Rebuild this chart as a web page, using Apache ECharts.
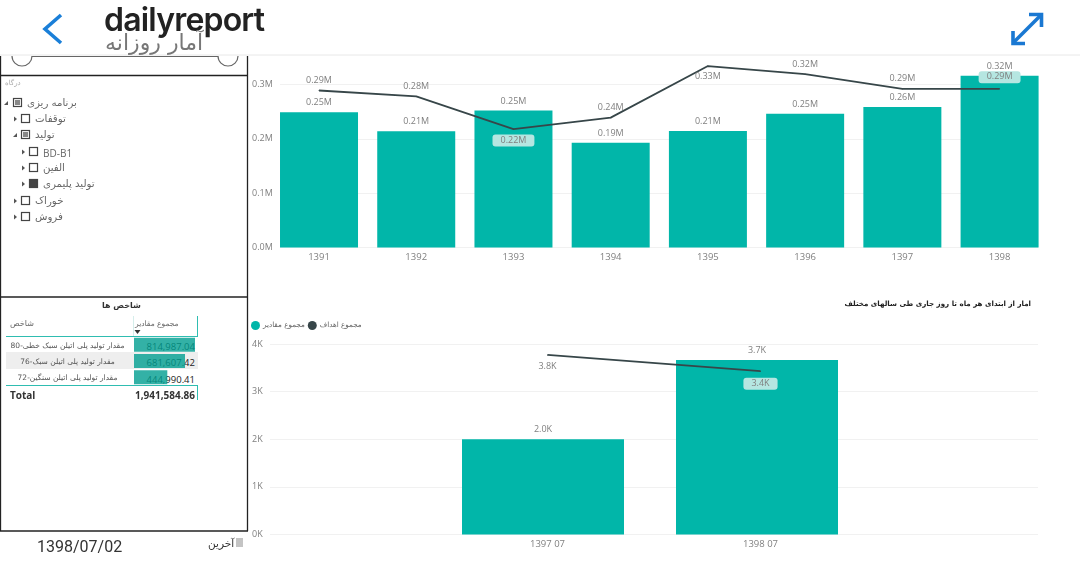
<!DOCTYPE html>
<html>
<head>
<meta charset="utf-8">
<title>dailyreport</title>
<script src="https://cdn.jsdelivr.net/npm/echarts@6/dist/echarts.min.js"></script>
<style>
  html, body { margin: 0; padding: 0; background: #fff; overflow: hidden; }
  #chart { position: absolute; left: 0; top: 0; width: 1080px; height: 578px; z-index: 1; }
  .t { position: absolute; white-space: nowrap; z-index: 2; line-height: 1; font-family: "DejaVu Sans", sans-serif; }
  .box { position: absolute; z-index: 0; }
  svg { position: absolute; left: 0; top: 0; z-index: 2; }
</style>
</head>
<body>
<div class="box" style="left:6px;top:352px;width:192px;height:17px;background:#eeeeee"></div>
<div id="chart"></div>
<svg id="icons" width="1080" height="578"></svg>
<div id="texts"></div>
<script>
var yearCats = ['1391', '1392', '1393', '1394', '1395', '1396', '1397', '1398'];
var yearValues = [249000, 214000, 252000, 193000, 214500, 246000, 258700, 316000];
var yearTargets = [289000, 278000, 218000, 239000, 334000, 319000, 292000, 292000];
var monthCats = ['1397 07', '1398 07'];
var monthValues = [2000, 3666];
var monthTargets = [3770, 3430];
var measureNames = ['مقدار تولید پلی اتیلن سبک خطی-80', 'مقدار تولید پلی اتیلن سبک-76', 'مقدار تولید پلی اتیلن سنگین-72'];
var measureValues = [814987.04, 681607.42, 444990.41];
var measureTotal = '1,941,584.86';
var nameValue = 'مجموع مقادیر';
var nameTarget = 'مجموع اهداف';
var teal = '#01B6A9';
var dark = '#374649';
var labelGrey = '#808080';
var chipColor = '#b5e6e1';
var labelFont = '"Open Sans", sans-serif';

// which target labels sit under the line, and which get the pale chip
var topBelow = ['1393', '1395'];
var topChip = ['1393', '1398'];

function fmtM(v) { return (v / 1000000).toFixed(2) + 'M'; }
function fmtK(v) { return (v / 1000).toFixed(1) + 'K'; }

var chipStyle = { backgroundColor: chipColor, borderRadius: 3, padding: [1, 8, 2, 8] };

var yearLine = yearTargets.map(function (v, i) {
  var c = yearCats[i];
  var lab = { show: true, position: topBelow.indexOf(c) >= 0 ? 'bottom' : 'top' };
  if (topChip.indexOf(c) >= 0) Object.assign(lab, chipStyle);
  return { value: v, label: lab };
});
var monthLine = monthTargets.map(function (v, i) {
  var lab = { show: true, position: 'bottom', distance: 6 };
  if (i === 1) Object.assign(lab, chipStyle);
  return { value: v, label: lab };
});

function hiddenX(grid, cats) {
  return { type: 'category', gridIndex: grid, data: cats, show: false };
}
function hiddenY(grid, max, interval) {
  return { type: 'value', gridIndex: grid, min: 0, max: max, interval: interval, show: false };
}
function shownX(grid, cats) {
  return {
    type: 'category', gridIndex: grid, data: cats,
    axisLine: { show: false }, axisTick: { show: false },
    axisLabel: { color: labelGrey, fontSize: 9.5, fontFamily: labelFont, margin: 5 }
  };
}

var option = {
  animation: false,
  title: {
    text: 'امار از ابتدای هر ماه تا روز جاری طی سالهای مختلف',
    right: 44, top: 296,
    textStyle: { fontSize: 7.1, fontWeight: 'bold', color: '#222', fontFamily: '"DejaVu Sans", sans-serif' }
  },
  legend: {
    left: 251, top: 321, itemGap: 3, itemWidth: 9, itemHeight: 9, icon: 'circle',
    padding: 0,
    data: [nameValue, nameTarget],
    textStyle: { fontSize: 7.2, color: '#666', padding: [0, 0, 0, -2], fontFamily: '"DejaVu Sans", sans-serif' }
  },
  grid: [
    { left: 280, width: 758, top: 30.2, height: 217.3 },
    { left: 270.4, width: 777.8, top: 30.2, height: 217.3 },
    { left: 270, width: 768, top: 344, height: 190.5 },
    { left: 436, width: 428, top: 344, height: 190.5 },
    { left: 441, width: 426, top: 344, height: 190.5 },
    { left: 134, width: 61, top: 336.5, height: 49 }
  ],
  xAxis: [
    hiddenX(0, yearCats),
    shownX(1, yearCats),
    hiddenX(2, monthCats),
    hiddenX(3, monthCats),
    shownX(4, monthCats),
    { type: 'value', gridIndex: 5, min: 0, max: measureValues[0], show: false }
  ],
  yAxis: [
    {
      type: 'value', gridIndex: 0, min: 0, max: 400000, interval: 100000,
      axisLine: { show: false }, axisTick: { show: false },
      splitLine: { showMaxLine: false, lineStyle: { color: '#f1f1f1' } },
      axisLabel: {
        showMaxLabel: false, color: labelGrey, fontSize: 9, fontFamily: labelFont,
        align: 'left', margin: 28, formatter: function (v) { return (v / 1000000).toFixed(1) + 'M'; }
      }
    },
    hiddenY(1, 400000, 100000),
    {
      type: 'value', gridIndex: 2, min: 0, max: 4000, interval: 1000,
      axisLine: { show: false }, axisTick: { show: false },
      splitLine: { lineStyle: { color: '#f1f1f1' } },
      axisLabel: {
        color: labelGrey, fontSize: 9, fontFamily: labelFont,
        align: 'left', margin: 18, formatter: function (v) { return (v / 1000) + 'K'; }
      }
    },
    hiddenY(3, 4000, 1000),
    hiddenY(4, 4000, 1000),
    { type: 'category', gridIndex: 5, inverse: true, data: measureNames, show: false }
  ],
  series: [
    {
      name: nameValue, type: 'bar', xAxisIndex: 1, yAxisIndex: 1, data: yearValues,
      barWidth: 78, itemStyle: { color: teal },
      label: { show: true, position: 'top', distance: 5, color: labelGrey, fontSize: 9, fontFamily: labelFont, formatter: function (p) { return fmtM(p.value); } }
    },
    {
      name: nameTarget, type: 'line', xAxisIndex: 1, yAxisIndex: 1, data: yearLine,
      symbol: 'circle', symbolSize: 1, showAllSymbol: true, z: 5,
      lineStyle: { color: dark, width: 1.8 }, itemStyle: { color: dark },
      label: { show: true, distance: 5, color: labelGrey, fontSize: 9, fontFamily: labelFont, formatter: function (p) { return fmtM(p.value); } }
    },
    {
      name: nameValue, type: 'bar', xAxisIndex: 3, yAxisIndex: 3, data: monthValues,
      barWidth: 162, itemStyle: { color: teal },
      label: { show: true, position: 'top', distance: 5, color: labelGrey, fontSize: 9, fontFamily: labelFont, formatter: function (p) { return fmtK(p.value); } }
    },
    {
      name: nameTarget, type: 'line', xAxisIndex: 4, yAxisIndex: 4, data: monthLine,
      symbol: 'circle', symbolSize: 1, showAllSymbol: true, z: 5,
      lineStyle: { color: dark, width: 1.8 }, itemStyle: { color: dark },
      label: { show: true, color: labelGrey, fontSize: 9, fontFamily: labelFont, formatter: function (p) { return fmtK(p.value); } }
    },
    {
      type: 'bar', xAxisIndex: 5, yAxisIndex: 5, data: measureValues,
      barWidth: 14, itemStyle: { color: '#009d90', opacity: 0.8 }, silent: true
    }
  ]
};

var myChart = echarts.init(document.getElementById('chart'));
myChart.setOption(option);

// ---- everything around the charts: header, panels, tree, table texts
var treeRows = [
  { text: 'برنامه ریزی', level: 0, y: 103, fill: 'part', open: true },
  { text: 'توقفات', level: 1, y: 119, fill: 'none' },
  { text: 'تولید', level: 1, y: 135, fill: 'part', open: true },
  { text: 'BD-B1', level: 2, y: 152, fill: 'none' },
  { text: 'الفین', level: 2, y: 168, fill: 'none' },
  { text: 'تولید پلیمری', level: 2, y: 184, fill: 'full' },
  { text: 'خوراک', level: 1, y: 201, fill: 'none' },
  { text: 'فروش', level: 1, y: 217, fill: 'none' }
];

var texts = document.getElementById('texts');
function addText(s, css) {
  var d = document.createElement('div');
  d.className = 't';
  d.textContent = s;
  d.style.cssText = css;
  texts.appendChild(d);
  return d;
}

addText('dailyreport', 'left:104px;top:0px;font:600 32px Inter,sans-serif;letter-spacing:-0.8px;color:#222');
addText('آمار روزانه', 'left:105px;top:32px;font-size:22px;letter-spacing:3.8px;color:#777;direction:rtl');
addText('درگاه', 'left:5px;top:80px;font-size:7px;color:#aaa;direction:rtl');
addText('شاخص ها', 'left:102px;top:302px;font-size:8px;font-weight:bold;color:#333;direction:rtl');
addText('شاخص', 'left:10px;top:320px;font-size:8px;color:#666;direction:rtl');
addText(nameValue, 'left:135px;top:320px;font-size:7.5px;color:#666;direction:rtl');
measureNames.forEach(function (n, i) {
  addText(n, 'left:5px;width:125px;text-align:center;top:' + (342 + i * 16) + 'px;font-size:7.5px;color:#555;direction:rtl');
  // values sit under the chart canvas so the data bars tint them
  addText(measureValues[i].toLocaleString('en-US', { minimumFractionDigits: 2 }),
    'z-index:0;right:885px;top:' + (340 + i * 16.3) + 'px;font:9.5px "Open Sans",sans-serif;color:#222');
});
addText('Total', 'left:10px;top:388px;font:bold 10px "Open Sans",sans-serif;color:#333');
addText(measureTotal, 'right:885px;top:388px;font:bold 10px "Open Sans",sans-serif;color:#333');
addText('1398/07/02', 'left:37px;top:537px;font:16px Roboto,sans-serif;color:#333');
addText('آخرین', 'left:208px;top:538px;font-size:10.5px;color:#333;direction:rtl');

var svg = '';
// back chevron and expand arrow
svg += '<polyline points="61,15 45,29 61,43" fill="none" stroke="#1a7fd8" stroke-width="3.6"/>';
svg += '<g fill="none" stroke="#1a78d2" stroke-width="3.6"><line x1="1013" y1="43" x2="1041" y2="15"/><polyline points="1029,14.5 1041.5,14.5 1041.5,27"/><polyline points="1013,31 1013,43.5 1025,43.5"/></g>';
svg += '<line x1="0" y1="55" x2="1080" y2="55" stroke="#e8e8e8"/>';
// panel frames
svg += '<g stroke="#222" stroke-width="1.3" fill="none"><line x1="247.5" y1="56" x2="247.5" y2="531"/><line x1="0.5" y1="56" x2="0.5" y2="531"/><line x1="0" y1="75.5" x2="248" y2="75.5"/><line x1="0" y1="297" x2="248" y2="297"/><line x1="0" y1="531" x2="248" y2="531"/></g>';
// slider remains
svg += '<g stroke="#666" stroke-width="1.2" fill="none"><line x1="32" y1="56.5" x2="218" y2="56.5"/><path d="M12,56 A10,10 0 0 0 32,56"/><path d="M218,56 A10,10 0 0 0 238,56"/></g>';
// table rules
svg += '<g stroke="#2fbdb1" stroke-width="1"><line x1="6" y1="336.5" x2="198" y2="336.5"/><line x1="6" y1="385.5" x2="198" y2="385.5"/><line x1="197.5" y1="316" x2="197.5" y2="336"/><line x1="197.5" y1="386" x2="197.5" y2="400"/><line x1="133.5" y1="316" x2="133.5" y2="336" stroke="#d5eeeb"/></g>';
svg += '<polygon points="134.5,330 140.5,330 137.5,334" fill="#333"/>';
svg += '<rect x="236" y="538" width="7" height="9" fill="#c4c4c4"/>';
// tree boxes and arrows
treeRows.forEach(function (r) {
  var ax = 6 + (r.level === 0 ? 0 : r.level === 1 ? 9 : 17);
  var bx = 13 + (r.level === 0 ? 0 : r.level === 1 ? 8 : 16);
  var y = r.y;
  if (r.open) {
    svg += '<polygon points="' + (ax - 2) + ',' + (y + 2) + ' ' + (ax + 2) + ',' + (y + 2) + ' ' + (ax + 2) + ',' + (y - 2) + '" fill="#555"/>';
  } else {
    svg += '<polygon points="' + (ax - 1) + ',' + (y - 2.5) + ' ' + (ax + 2) + ',' + y + ' ' + (ax - 1) + ',' + (y + 2.5) + '" fill="#555"/>';
  }
  svg += '<rect x="' + bx + '.5" y="' + (y - 5) + '.5" width="8" height="8" fill="' + (r.fill === 'full' ? '#444' : '#fff') + '" stroke="#444" stroke-width="1.2"/>';
  if (r.fill === 'part') svg += '<rect x="' + (bx + 2) + '" y="' + (y - 3) + '" width="5" height="5" fill="#888"/>';
  var isLatin = /^[A-Z]/.test(r.text);
  addText(r.text, 'left:' + (bx + 14) + 'px;color:#666;' +
    (isLatin ? 'top:' + (y - 6) + 'px;font:10px "Open Sans",sans-serif;' : 'top:' + (y - 5) + 'px;font-size:10.2px;direction:rtl;'));
});
document.getElementById('icons').innerHTML = svg;
</script>
</body>
</html>
